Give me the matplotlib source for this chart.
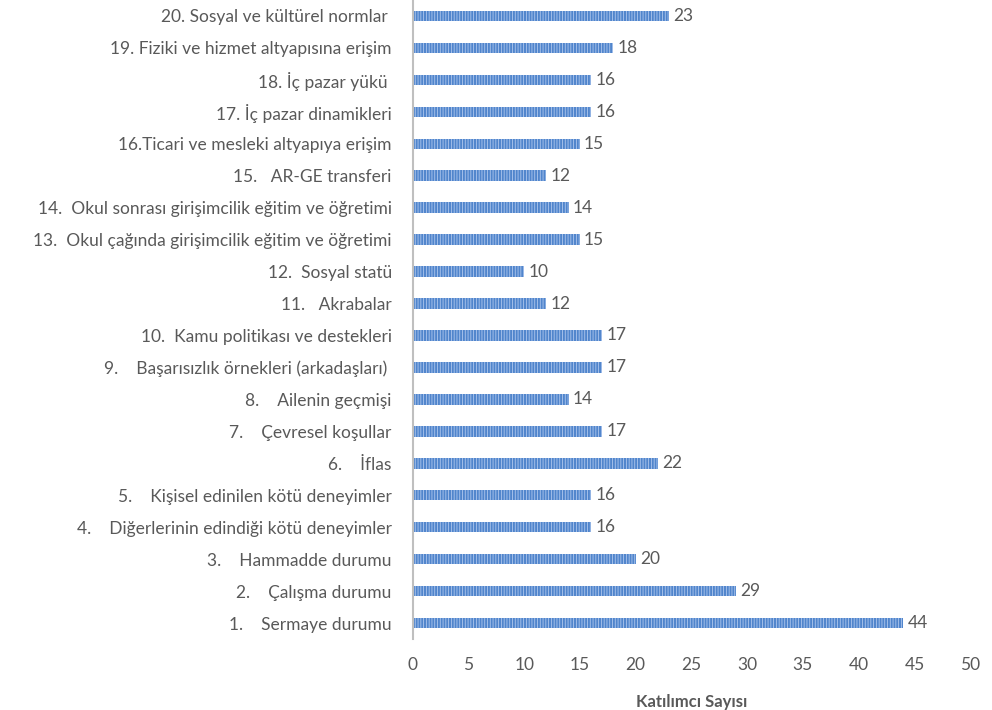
import numpy as np
import matplotlib.pyplot as plt

# Katılımcı sayıları, 1'den 20'ye
labels = [
    "1.    Sermaye durumu",
    "2.    Çalışma durumu",
    "3.    Hammadde durumu",
    "4.    Diğerlerinin edindiği kötü deneyimler",
    "5.    Kişisel edinilen kötü deneyimler",
    "6.    İflas",
    "7.    Çevresel koşullar",
    "8.    Ailenin geçmişi",
    "9.    Başarısızlık örnekleri (arkadaşları) ",
    "10.  Kamu politikası ve destekleri",
    "11.   Akrabalar",
    "12.  Sosyal statü",
    "13.  Okul çağında girişimcilik eğitim ve öğretimi",
    "14.  Okul sonrası girişimcilik eğitim ve öğretimi",
    "15.   AR-GE transferi",
    "16.Ticari ve mesleki altyapıya erişim",
    "17. İç pazar dinamikleri",
    "18. İç pazar yükü ",
    "19. Fiziki ve hizmet altyapısına erişim",
    "20. Sosyal ve kültürel normlar ",
]
values = [44, 29, 20, 16, 16, 22, 17, 14, 17, 17, 12, 10, 15, 14, 12, 15, 16, 16, 18, 23]

grey = "#595959"
plt.rcParams['font.family'] = ['Lato', 'DejaVu Sans']
plt.rcParams['hatch.linewidth'] = 0.6

fig = plt.figure(figsize=(9.92, 7.10), dpi=100)
ax = fig.add_axes([0.416, 0.10, 0.562, 0.90])

y = np.arange(len(values))
bars = ax.barh(y, values, height=0.33, color="#5085cc",
               edgecolor="#b0c8ee", linewidth=0, hatch="||||||")

for yi, v in zip(y, values):
    ax.annotate(str(v), (v, yi), xytext=(3, 0), textcoords="offset points",
                va="center", ha="left", fontsize=12.5, color=grey)

ax.set_ylim(-0.5, len(values) - 0.5)
ax.set_xlim(0, 50)
ax.set_xticks(np.arange(0, 51, 5))
ax.set_yticks(y)
ax.set_yticklabels(labels)
ax.tick_params(axis='both', length=0, colors=grey, labelsize=12.5)
ax.tick_params(axis='y', pad=15)
ax.tick_params(axis='x', pad=13)

for s in ['top', 'right', 'bottom']:
    ax.spines[s].set_visible(False)
ax.spines['left'].set_color("#bfbfbf")
ax.spines['left'].set_linewidth(1.5)

ax.set_xlabel("Katılımcı Sayısı", fontsize=12, fontweight="bold",
              color=grey, labelpad=15)

fig.savefig("out.png", dpi=100)
